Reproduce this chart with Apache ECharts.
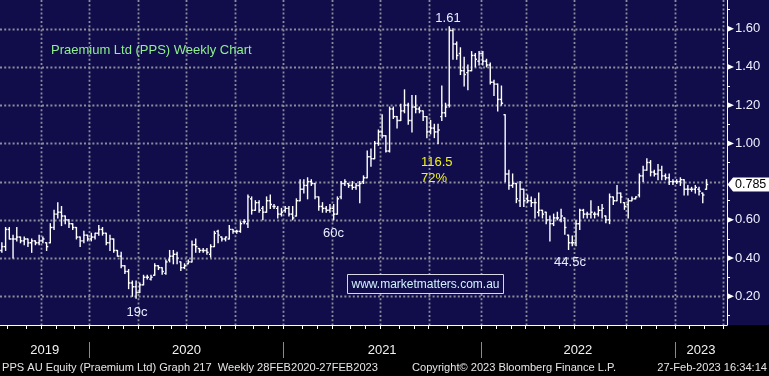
<!DOCTYPE html>
<html><head><meta charset="utf-8">
<script src="https://cdn.jsdelivr.net/npm/echarts@6/dist/echarts.min.js"></script>
<style>html,body{margin:0;padding:0;background:#000}#c{width:769px;height:376px}</style>
</head><body><div id="c"></div>
<script>
// ---- data (weekly OHLC, first week ending 2019-07-19) ----
const firstWeekUTC = [2019, 6, 19];
const slotCount = 195; // weekly slots on the axis (data + empty future weeks)
const opens = [
.44,.46,.55,.50,.50,.51,.49,.50,.48,.49,
.48,.49,.48,.48,.56,.63,.64,.62,.60,.58,
.56,.51,.49,.52,.50,.51,.53,.55,.53,.48,
.50,.44,.41,.36,.33,.27,.25,.22,.26,.30,
.29,.31,.36,.35,.32,.39,.41,.42,.38,.35,
.37,.38,.47,.45,.44,.44,.42,.46,.54,.51,
.50,.50,.55,.54,.54,.59,.58,.71,.65,.69,
.66,.64,.70,.67,.66,.63,.65,.66,.63,.62,
.70,.76,.78,.80,.79,.72,.67,.66,.65,.66,
.63,.72,.79,.79,.78,.77,.78,.80,.82,.93,
.92,1.00,1.06,1.04,.96,1.18,1.14,1.12,1.17,1.20,
1.12,1.19,1.18,1.17,1.14,1.06,1.08,1.06,1.14,1.16,
1.20,1.59,1.52,1.47,1.38,1.37,1.38,1.46,1.43,1.47,
1.43,1.41,1.32,1.31,1.23,1.15,.84,.78,.79,.70,
.76,.71,.70,.69,.64,.65,.64,.60,.58,.61,
.60,.61,.52,.48,.48,.58,.65,.63,.63,.63,
.63,.65,.62,.60,.72,.70,.74,.69,.68,.70,
.71,.73,.83,.86,.90,.85,.84,.86,.83,.82,
.80,.80,.80,.81,.76,.76,.76,.76,.74,.76];
const highs = [
.48,.56,.56,.52,.56,.51,.51,.50,.50,.49,
.52,.51,.48,.58,.65,.69,.67,.62,.60,.58,
.56,.51,.54,.52,.53,.53,.57,.56,.53,.52,
.50,.44,.43,.36,.34,.28,.28,.27,.31,.31,
.31,.37,.36,.35,.39,.44,.44,.43,.38,.37,
.39,.49,.50,.45,.45,.45,.47,.54,.545,.51,
.51,.57,.55,.545,.59,.60,.73,.72,.70,.70,
.67,.72,.73,.68,.67,.66,.67,.67,.67,.71,
.81,.81,.82,.81,.79,.72,.69,.67,.68,.68,
.72,.80,.81,.79,.80,.79,.80,.83,.96,.97,
1.01,1.07,1.15,1.04,1.19,1.19,1.14,1.205,1.28,1.21,
1.25,1.25,1.19,1.17,1.14,1.12,1.10,1.10,1.30,1.21,
1.61,1.60,1.53,1.50,1.45,1.41,1.48,1.47,1.48,1.48,
1.44,1.42,1.33,1.31,1.30,1.15,.86,.84,.79,.80,
.76,.73,.72,.71,.74,.65,.64,.62,.63,.64,
.655,.61,.52,.515,.595,.655,.655,.64,.70,.64,
.67,.68,.62,.735,.72,.78,.74,.69,.71,.72,
.72,.84,.88,.92,.91,.86,.89,.88,.84,.84,
.81,.81,.82,.81,.78,.77,.78,.77,.74,.81];
const lows = [
.43,.44,.50,.40,.49,.48,.47,.46,.43,.47,
.47,.48,.44,.48,.55,.61,.57,.58,.56,.55,
.50,.46,.48,.49,.49,.50,.52,.52,.47,.44,
.43,.41,.35,.32,.24,.20,.19,.22,.26,.29,
.285,.31,.34,.315,.315,.38,.37,.37,.335,.345,
.37,.38,.43,.43,.43,.42,.405,.46,.48,.49,
.49,.50,.53,.53,.535,.58,.56,.63,.65,.64,
.60,.64,.66,.66,.61,.62,.64,.62,.60,.62,
.70,.74,.71,.78,.71,.65,.64,.64,.64,.60,
.63,.71,.78,.77,.76,.76,.69,.79,.82,.88,
.92,.99,1.03,.955,.955,1.13,1.08,1.12,1.16,1.10,
1.06,1.16,1.16,1.12,1.03,1.05,1.03,1.00,1.12,1.14,
1.19,1.44,1.44,1.36,1.30,1.28,1.38,1.40,1.41,1.41,
1.40,1.31,1.25,1.17,1.20,.80,.76,.77,.69,.67,
.67,.69,.67,.61,.62,.61,.58,.49,.57,.60,
.59,.525,.445,.465,.465,.55,.61,.61,.61,.61,
.62,.61,.585,.58,.68,.70,.69,.655,.61,.70,
.71,.72,.80,.86,.83,.83,.81,.81,.81,.785,
.785,.79,.78,.73,.73,.75,.74,.73,.69,.76];
const closes = [
.46,.55,.50,.50,.51,.49,.50,.48,.49,.48,
.49,.50,.46,.56,.63,.64,.62,.60,.58,.56,
.51,.49,.52,.50,.51,.53,.55,.53,.48,.50,
.44,.41,.36,.33,.27,.25,.22,.26,.30,.30,
.30,.36,.35,.33,.38,.41,.42,.40,.35,.36,
.38,.47,.46,.44,.44,.43,.46,.53,.52,.50,
.51,.55,.54,.54,.58,.59,.72,.65,.69,.65,
.64,.70,.68,.67,.63,.64,.66,.63,.61,.70,
.76,.78,.80,.79,.72,.67,.66,.65,.66,.63,
.71,.79,.80,.78,.77,.78,.79,.82,.93,.92,
1.00,1.06,1.04,.96,1.18,1.14,1.12,1.17,1.20,1.12,
1.19,1.18,1.17,1.14,1.06,1.08,1.06,1.07,1.16,1.19,
1.59,1.52,1.46,1.38,1.36,1.38,1.46,1.44,1.47,1.43,
1.41,1.32,1.31,1.23,1.21,.84,.78,.79,.71,.76,
.70,.70,.69,.69,.65,.63,.60,.58,.61,.61,
.62,.56,.48,.48,.58,.65,.63,.63,.64,.63,
.65,.66,.60,.72,.70,.74,.72,.67,.70,.71,
.72,.83,.86,.90,.85,.84,.86,.83,.82,.80,
.80,.80,.81,.76,.76,.76,.77,.75,.73,.785];
const yLabelValues = [0.2, 0.4, 0.6, 1.0, 1.2, 1.4, 1.6];
const yGridValues = [0.2, 0.4, 0.6, 0.8, 1.0, 1.2, 1.4, 1.6];
const yMinorValues = [0.1, 0.3, 0.5, 0.7, 0.9, 1.1, 1.3, 1.5, 1.7];
const titleText = 'Praemium Ltd (PPS) Weekly Chart';
const footerLeft = 'PPS AU Equity (Praemium Ltd) Graph 217  Weekly 28FEB2020-27FEB2023';
const footerMid = 'Copyright\u00A9 2023 Bloomberg Finance L.P.';
const footerRight = '27-Feb-2023 16:34:14';
const watermark = 'www.marketmatters.com.au';

// ---- derived axis helpers (calendar of weekly slots) ----
const t0 = Date.UTC(firstWeekUTC[0], firstWeekUTC[1], firstWeekUTC[2]);
const weeks = [];
for (let i = 0; i < slotCount; i++) weeks.push(new Date(t0 + i * 7 * 86400000));
const monthB = [], quarterB = [], yearB = [];
for (let i = 1; i < slotCount; i++) {
  const a = weeks[i - 1], b = weeks[i];
  if (a.getUTCMonth() !== b.getUTCMonth()) {
    monthB.push(i - 0.5);
    if (b.getUTCMonth() % 3 === 0) quarterB.push(i - 0.5);
  }
  if (a.getUTCFullYear() !== b.getUTCFullYear()) yearB.push(i - 0.5);
}
const edges = [-0.5].concat(yearB, [slotCount - 0.5]);
const yearCenters = [];
for (let i = 0; i < edges.length - 1; i++) yearCenters.push((edges[i] + edges[i + 1]) / 2);

const NAVY = '#100d4a';
const FONT = '"Liberation Sans", Arial, sans-serif';
const GRIDC = '#8c8c9a';
const barData = opens.map((o, i) => [i, o, closes[i], lows[i], highs[i]]);
const yTickAll = yMinorValues.concat(yLabelValues);

const chart = echarts.init(document.getElementById('c'));
const option = {
  backgroundColor: NAVY,
  animation: false,
  grid: { left: 0, right: 42, top: 0, bottom: 51 },
  xAxis: [
    { type: 'value', min: -0.5, max: slotCount - 0.5,
      axisLine: { show: true, onZero: false, lineStyle: { color: '#ffffff', width: 1 } },
      axisTick: { show: true, customValues: monthB, length: 4, lineStyle: { color: '#ffffff', width: 1 } },
      axisLabel: { show: true, customValues: yearCenters,
        formatter: v => String(weeks[Math.max(0, Math.min(slotCount - 1, Math.floor(v)))].getUTCFullYear()),
        color: '#f2f2f2', fontSize: 13, fontFamily: FONT, margin: 19 },
      splitLine: { show: false } },
    { type: 'value', min: -0.5, max: slotCount - 0.5, position: 'bottom', offset: 17,
      axisLine: { show: false },
      axisTick: { show: true, customValues: yearB, length: 16, lineStyle: { color: '#8a8a8a', width: 1 } },
      axisLabel: { show: false }, splitLine: { show: false } }
  ],
  yAxis: [
    { type: 'value', position: 'right', min: 0.05, max: 1.75,
      axisLine: { show: true, onZero: false, lineStyle: { color: '#ffffff', width: 1 } },
      axisTick: { show: true, customValues: yTickAll, length: 3, lineStyle: { color: '#ffffff', width: 1 } },
      axisLabel: { show: true, customValues: yLabelValues, formatter: v => v.toFixed(2),
        color: '#f0f0ff', fontSize: 13, fontFamily: FONT, margin: 8 },
      splitLine: { show: false } }
  ],
  series: [{
    type: 'custom',
    xAxisIndex: 0, yAxisIndex: 0,
    data: barData,
    encode: { x: 0, y: [1, 2, 3, 4] },
    clip: true,
    z: 10,
    renderItem: function (params, api) {
      const x = api.value(0);
      const o = api.coord([x, api.value(1)]);
      const c = api.coord([x, api.value(2)]);
      const l = api.coord([x, api.value(3)]);
      const h = api.coord([x, api.value(4)]);
      const w = api.size([1, 0])[0] * 0.45;
      const st = { stroke: '#ffffff', lineWidth: 1.4 };
      return { type: 'group', children: [
        { type: 'line', shape: { x1: h[0], y1: h[1] - 0.5, x2: l[0], y2: l[1] + 0.5 }, style: st },
        { type: 'line', shape: { x1: o[0] - w, y1: o[1], x2: o[0], y2: o[1] }, style: st },
        { type: 'line', shape: { x1: c[0], y1: c[1], x2: c[0] + w, y2: c[1] }, style: st }
      ] };
    }
  }]
};
chart.setOption(option);

// ---- positions derived from the axes ----
const lastClose = closes[closes.length - 1];
const px = v => chart.convertToPixel({ xAxisIndex: 0 }, v);
const py = v => chart.convertToPixel({ yAxisIndex: 0 }, v);
const yTag = py(lastClose);
const xRight = px(slotCount - 0.5);
const xLeft = px(-0.5);
const plotBottom = py(0.05);
const plotTop = py(1.75);
const lastQuarterX = px(quarterB[quarterB.length - 1]);

function txt(x, y, text, fill, size, align) {
  return { type: 'text', x: x, y: y, z: 50, silent: true,
    style: { text: text, fill: fill, fontSize: size, fontFamily: FONT,
      align: align || 'left', textAlign: align || 'left', verticalAlign: 'middle', textVerticalAlign: 'middle' } };
}
const dotted = { stroke: GRIDC, lineWidth: 1.8, lineDash: [2, 2.2] };
const gridEls = [];
quarterB.forEach(q => {
  const x = Math.round(px(q)) + 0.5;
  gridEls.push({ type: 'line', z: -5, silent: true, shape: { x1: x, y1: plotTop, x2: x, y2: plotBottom }, style: dotted });
});
yGridValues.forEach(v => {
  const y = Math.round(py(v)) + 0.5;
  gridEls.push({ type: 'line', z: -5, silent: true, shape: { x1: xLeft, y1: y, x2: lastQuarterX, y2: y }, style: dotted });
});
const triEls = yLabelValues.map(v => {
  const y = py(v);
  return { type: 'polygon', z: 30, silent: true,
    shape: { points: [[xRight, y - 3.2], [xRight + 7, y], [xRight, y + 3.2]] }, style: { fill: '#ffffff' } };
});

chart.setOption({
  graphic: [
    { type: 'rect', x: 0, y: plotBottom, z: -100, silent: true, shape: { width: 769, height: 376 - plotBottom }, style: { fill: '#000000' } }
  ].concat(gridEls, triEls, [
    txt(51, 50, titleText, '#8fef8f', 13),
    txt(448, 18, '1.61', '#e8eeff', 13, 'center'),
    txt(421, 162, '116.5', '#f2f21e', 13),
    txt(421, 178, '72%', '#f2f21e', 13),
    txt(333.5, 233, '60c', '#e8eeff', 13, 'center'),
    txt(137, 312, '19c', '#e8eeff', 13, 'center'),
    txt(570, 262, '44.5c', '#e8eeff', 13, 'center'),
    { type: 'rect', x: 347.5, y: 274.5, z: 40, silent: true, shape: { width: 156, height: 19 }, style: { fill: NAVY, stroke: '#d8d8e4', lineWidth: 1 } },
    txt(425.5, 284.5, watermark, '#d2f2ff', 12, 'center'),
    { type: 'polygon', z: 60, silent: true,
      shape: { points: [[xRight + 0.5, yTag], [xRight + 6, yTag - 7], [769, yTag - 7], [769, yTag + 7], [xRight + 6, yTag + 7]] },
      style: { fill: '#ffffff' } },
    Object.assign(txt(735, yTag + 0.5, lastClose.toFixed(3), '#000000', 12.5), { z: 61 }),
    txt(2, 367.5, footerLeft, '#e6e6e6', 11.1),
    txt(412, 367.5, footerMid, '#e6e6e6', 11.1),
    txt(767, 367.5, footerRight, '#e6e6e6', 11.1, 'right')
  ])
});
</script>
</body></html>
